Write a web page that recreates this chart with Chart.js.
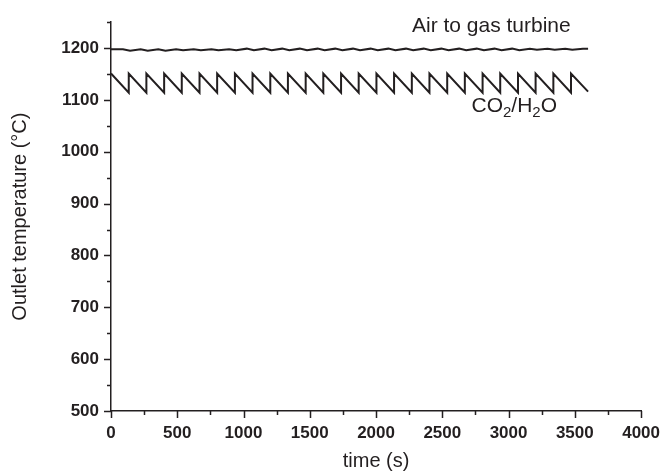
<!DOCTYPE html>
<html>
<head>
<meta charset="utf-8">
<script src="https://cdn.jsdelivr.net/npm/chart.js@4.4.0/dist/chart.umd.min.js"></script>
<style>
  html, body { margin: 0; padding: 0; background: #fff; }
  #chart { display: block; }
</style>
</head>
<body>
<canvas id="chart" width="672" height="473"></canvas>
<script>
// ── Data ──
// CO2/H2O outlet: sawtooth, the jump times appear twice (bottom then top)
const co2Time = [0, 134, 134, 267, 267, 401, 401, 534, 534, 668, 668, 801, 801, 935, 935,
    1068, 1068, 1202, 1202, 1335, 1335, 1469, 1469, 1602, 1602, 1736, 1736, 1869, 1869,
    2003, 2003, 2136, 2136, 2270, 2270, 2403, 2403, 2537, 2537, 2670, 2670, 2804, 2804,
    2937, 2937, 3071, 3071, 3204, 3204, 3338, 3338, 3471, 3471, 3600];
const co2Temp = [1151, 1114, 1151, 1114, 1151, 1114, 1151, 1114, 1151, 1114, 1151, 1114, 1151, 1114, 1151,
    1114, 1151, 1114, 1151, 1114, 1151, 1114, 1151, 1114, 1151, 1114, 1151, 1114, 1151,
    1114, 1151, 1114, 1151, 1114, 1151, 1114, 1151, 1114, 1151, 1114, 1151, 1114, 1151,
    1114, 1151, 1114, 1151, 1114, 1151, 1114, 1151, 1114, 1151, 1116];

// Air to gas turbine: nearly flat, small dip right after every CO2 jump
const airTime = [0, 90, 144, 224, 277, 357, 411, 491, 544, 624, 678, 758, 811, 891, 945,
    1025, 1078, 1158, 1212, 1292, 1345, 1425, 1479, 1559, 1612, 1692, 1746, 1826, 1879,
    1959, 2013, 2093, 2146, 2226, 2280, 2360, 2413, 2493, 2547, 2627, 2680, 2760, 2814,
    2894, 2947, 3027, 3081, 3161, 3214, 3294, 3348, 3428, 3481, 3561, 3600];
const airTemp = [1198, 1198, 1195, 1198, 1195, 1198, 1195, 1198, 1196, 1198, 1196, 1198, 1196, 1198, 1196,
    1199, 1196, 1199, 1196, 1199, 1196, 1199, 1196, 1199, 1196, 1199, 1196, 1199, 1196,
    1199, 1196, 1199, 1196, 1199, 1196, 1199, 1196, 1199, 1196, 1199, 1196, 1199, 1196,
    1199, 1196, 1199, 1196, 1199, 1197, 1199, 1197, 1199, 1197, 1199, 1199];

const xMin = 0, xMax = 4000, xStep = 250, xLabelStep = 500;
const yMin = 500, yMax = 1250, yStep = 50, yLabelStep = 100;

// text labels placed in data units
const labels = [
    { text: 'Air to gas turbine', x: 2870, y: 1242 },
    { parts: [['CO', 0], ['2', 1], ['/H', 0], ['2', 1], ['O', 0]], x: 2720, y: 1088 }
];

const INK = '#231f20';
const FONT = '"Liberation Sans", Arial, Helvetica, sans-serif';

const toPoints = (ts, vs) => ts.map((t, i) => ({ x: t, y: vs[i] }));

// ── Tick marks: long at labelled values, short in between ──
const tickMarks = {
    id: 'tickMarks',
    afterDraw(chart) {
        const ctx = chart.ctx;
        const { x, y } = chart.scales;
        ctx.save();
        ctx.strokeStyle = INK;
        ctx.lineWidth = 1.5;
        ctx.beginPath();
        y.ticks.forEach(t => {
            const py = Math.round(y.getPixelForValue(t.value)) + 0.5;
            const len = t.value % yLabelStep === 0 ? 7 : 4;
            ctx.moveTo(x.left, py);
            ctx.lineTo(x.left - len, py);
        });
        x.ticks.forEach(t => {
            const px = Math.round(x.getPixelForValue(t.value)) + 0.5;
            const len = t.value % xLabelStep === 0 ? 7 : 4;
            ctx.moveTo(px, y.bottom);
            ctx.lineTo(px, y.bottom + len);
        });
        ctx.stroke();
        ctx.restore();
    }
};

// ── Curve labels ──
const curveLabels = {
    id: 'curveLabels',
    afterDatasetsDraw(chart) {
        const ctx = chart.ctx;
        const { x, y } = chart.scales;
        ctx.save();
        ctx.fillStyle = INK;
        ctx.textBaseline = 'middle';
        labels.forEach(l => {
            const px = x.getPixelForValue(l.x);
            const py = y.getPixelForValue(l.y);
            if (l.text) {
                ctx.font = '21px ' + FONT;
                ctx.textAlign = 'center';
                ctx.fillText(l.text, px, py);
            } else {
                ctx.textAlign = 'left';
                let cx = px;
                l.parts.forEach(([s, sub]) => {
                    ctx.font = (sub ? '15px ' : '21px ') + FONT;
                    ctx.fillText(s, cx, sub ? py + 7 : py);
                    cx += ctx.measureText(s).width;
                });
            }
        });
        ctx.restore();
    }
};

new Chart(document.getElementById('chart'), {
    type: 'line',
    data: {
        datasets: [
            {
                label: 'Air to gas turbine',
                data: toPoints(airTime, airTemp),
                borderColor: INK, borderWidth: 2,
                pointRadius: 0, tension: 0, fill: false
            },
            {
                label: 'CO2/H2O',
                data: toPoints(co2Time, co2Temp),
                borderColor: INK, borderWidth: 2,
                pointRadius: 0, tension: 0, fill: false
            }
        ]
    },
    options: {
        responsive: false, animation: false,
        layout: { padding: { top: 18, right: 21, left: 0, bottom: 0 } },
        plugins: {
            legend: { display: false },
            tooltip: { enabled: false }
        },
        scales: {
            x: {
                type: 'linear', min: xMin, max: xMax,
                grid: { display: false, drawTicks: false },
                border: { display: true, color: INK, width: 1.5 },
                ticks: {
                    stepSize: xStep, autoSkip: false, maxRotation: 0, padding: 12,
                    color: INK, font: { family: FONT, size: 17, weight: 'bold' },
                    callback: v => v % xLabelStep === 0 ? v : ''
                },
                title: {
                    display: true, text: 'time (s)', color: INK,
                    font: { family: FONT, size: 20 }, padding: { top: 4, bottom: 0 }
                },
                afterFit: s => { s.height = 62; }
            },
            y: {
                min: yMin, max: yMax,
                grid: { display: false, drawTicks: false },
                border: { display: true, color: INK, width: 1.5 },
                ticks: {
                    stepSize: yStep, autoSkip: false, padding: 12,
                    color: INK, font: { family: FONT, size: 17, weight: 'bold' },
                    callback: v => v % yLabelStep === 0 ? v : ''
                },
                title: {
                    display: true, text: 'Outlet temperature (°C)', color: INK,
                    font: { family: FONT, size: 20 }, padding: { top: 8, bottom: 0 }
                },
                afterFit: s => { s.width = 111; }
            }
        }
    },
    plugins: [tickMarks, curveLabels]
});
</script>
</body>
</html>
